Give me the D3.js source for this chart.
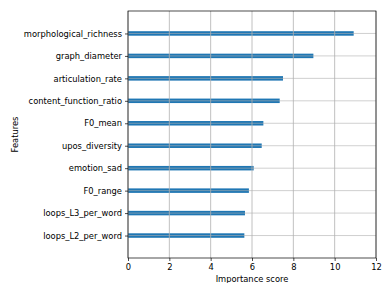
<!DOCTYPE html>
<html><head><meta charset="utf-8">
<script src="https://cdn.jsdelivr.net/npm/d3@7"></script>
<style>html,body{margin:0;padding:0;background:#fff;}svg{display:block;}</style>
</head><body>
<script>
const features = ["loops_L2_per_word","loops_L3_per_word","F0_range","emotion_sad","upos_diversity","F0_mean","content_function_ratio","articulation_rate","graph_diameter","morphological_richness"];
const importance = [5.63, 5.66, 5.85, 6.08, 6.47, 6.55, 7.34, 7.50, 8.97, 10.92];
const xTicks = [0, 2, 4, 6, 8, 10, 12];
const xLabel = "Importance score";
const yLabel = "Features";

const W = 383, H = 283;
const m = {left: 128, right: 7, top: 11, bottom: 25};
const fs = 8.33;
const svg = d3.select("body").append("svg").attr("width", W).attr("height", H)
  .style("font-family", "'DejaVu Sans', sans-serif");

const x = d3.scaleLinear().domain([0, 12]).range([m.left, W - m.right]);
const y = d3.scaleLinear().domain([-1, features.length]).range([H - m.bottom, m.top]);
const barH = y(0) - y(0.2);

const g = svg.append("g");
// bars
g.selectAll("rect.bar").data(importance).join("rect")
  .attr("class", "bar")
  .attr("x", x(0))
  .attr("y", (d, i) => y(i) - barH / 2)
  .attr("width", d => x(d) - x(0))
  .attr("height", barH)
  .attr("fill", "#1f77b4");

// grid (drawn above bars, as in matplotlib)
g.selectAll("line.vg").data(xTicks).join("line")
  .attr("x1", d => x(d)).attr("x2", d => x(d))
  .attr("y1", m.top).attr("y2", H - m.bottom)
  .attr("stroke", "#b0b0b0").attr("stroke-width", 0.8);
g.selectAll("line.hg").data(features).join("line")
  .attr("x1", m.left).attr("x2", W - m.right)
  .attr("y1", (d, i) => y(i)).attr("y2", (d, i) => y(i))
  .attr("stroke", "#b0b0b0").attr("stroke-width", 0.8).attr("stroke-opacity", 0.75);

// axes
const xAxis = d3.axisBottom(x).tickValues(xTicks).tickFormat(d3.format("d")).tickSize(3).tickPadding(3);
const ax = svg.append("g").attr("transform", `translate(0,${H - m.bottom})`).call(xAxis);
const yAxis = d3.axisLeft(y).tickValues(d3.range(features.length)).tickFormat(i => features[i]).tickSize(3).tickPadding(3);
const ay = svg.append("g").attr("transform", `translate(${m.left},0)`).call(yAxis);
[ax, ay].forEach(a => {
  a.select(".domain").remove();
  a.selectAll(".tick line").attr("stroke", "#000").attr("stroke-width", 0.7);
  a.selectAll(".tick text").attr("fill", "#000").style("font-size", fs + "px").style("font-family", "'DejaVu Sans', sans-serif");
});

// spines
svg.append("rect")
  .attr("x", m.left).attr("y", m.top)
  .attr("width", W - m.right - m.left).attr("height", H - m.bottom - m.top)
  .attr("fill", "none").attr("stroke", "#000").attr("stroke-width", 0.7);

// labels
svg.append("text").attr("x", (m.left + W - m.right) / 2).attr("y", H - 1)
  .attr("text-anchor", "middle").style("font-size", fs + "px").attr("fill", "#000").text(xLabel);
svg.append("text").attr("transform", `translate(${18},${(m.top + H - m.bottom) / 2}) rotate(-90)`)
  .attr("text-anchor", "middle").style("font-size", fs + "px").attr("fill", "#000").text(yLabel);
</script>
</body></html>
